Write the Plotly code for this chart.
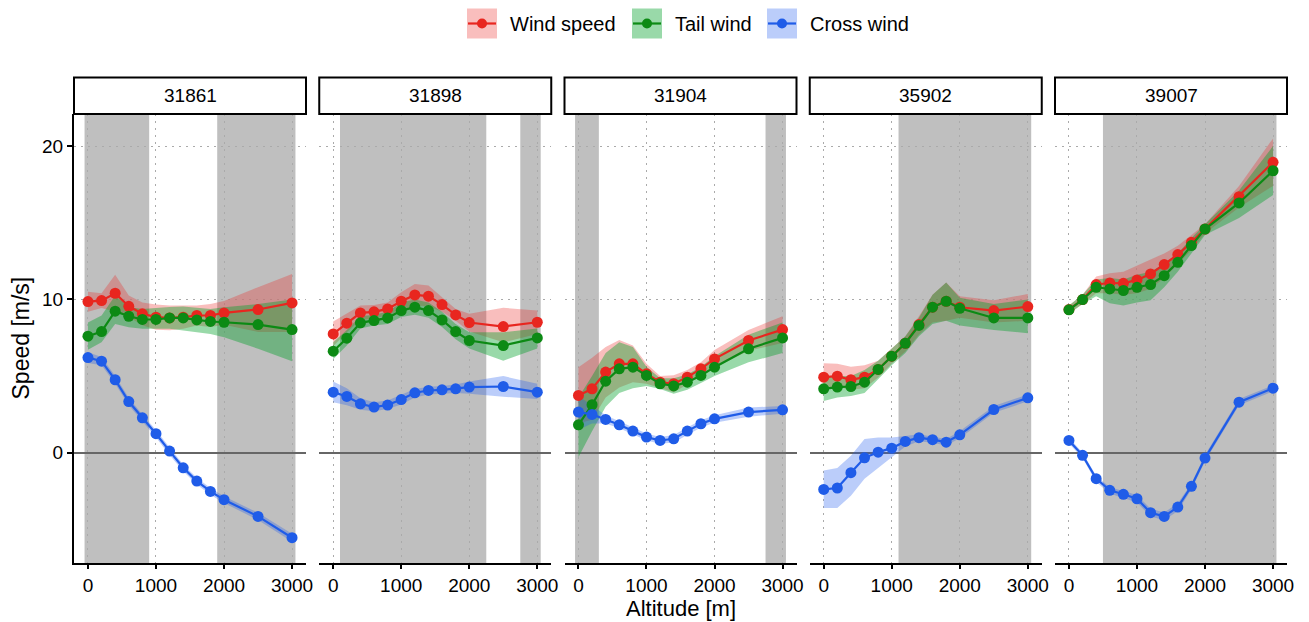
import plotly.graph_objects as go

# ---------------- data ----------------
altitude = [0, 200, 400, 600, 800, 1000, 1200, 1400, 1600, 1800, 2000, 2500, 3000]
stations = ["31861", "31898", "31904", "35902", "39007"]
series_names = ["Wind speed", "Tail wind", "Cross wind"]
x_ticks = [0, 1000, 2000, 3000]
y_ticks = [0, 10, 20]

# 31861
ws_31861 = [9.86, 9.92, 10.40, 9.55, 9.06, 8.84, 8.79, 8.84, 8.95, 8.95, 9.12, 9.34, 9.77]
ws_hi_31861 = [10.5, 10.4, 11.6, 10.25, 9.8, 9.66, 9.6, 9.6, 9.6, 9.7, 9.9, 10.8, 11.66]
ws_lo_31861 = [9.2, 9.44, 9.2, 8.85, 8.32, 8.02, 7.98, 8.08, 8.3, 8.2, 8.34, 7.88, 7.88]
tw_31861 = [7.60, 7.90, 9.23, 8.90, 8.69, 8.69, 8.79, 8.79, 8.66, 8.56, 8.51, 8.36, 8.03]
tw_hi_31861 = [8.5, 8.95, 10.25, 9.5, 9.38, 9.45, 9.5, 9.53, 9.45, 9.38, 9.49, 9.7, 10.0]
tw_lo_31861 = [6.71, 7.2, 8.4, 8.19, 8.08, 8.08, 8.08, 7.97, 7.86, 7.75, 7.53, 6.78, 5.97]
cw_31861 = [6.21, 5.97, 4.76, 3.34, 2.28, 1.24, 0.11, -0.98, -1.85, -2.52, -3.06, -4.15, -5.54]
cw_hi_31861 = [6.55, 6.25, 5.0, 3.58, 2.5, 1.48, 0.35, -0.76, -1.63, -2.3, -2.84, -3.92, -5.28]
cw_lo_31861 = [5.85, 5.7, 4.5, 3.1, 2.05, 1.0, -0.14, -1.2, -2.07, -2.74, -3.28, -4.38, -5.8]

# 31898
ws_31898 = [7.75, 8.45, 9.12, 9.19, 9.38, 9.88, 10.29, 10.21, 9.66, 8.99, 8.49, 8.23, 8.51]
ws_hi_31898 = [8.56, 9.06, 9.6, 9.64, 9.8, 10.47, 11.0, 10.9, 10.14, 9.38, 9.06, 9.45, 9.27]
ws_lo_31898 = [6.95, 7.85, 8.65, 8.75, 8.95, 9.3, 9.6, 9.55, 9.2, 8.6, 7.9, 7.2, 7.75]
tw_31898 = [6.62, 7.47, 8.47, 8.62, 8.79, 9.27, 9.49, 9.27, 8.66, 7.90, 7.32, 6.99, 7.49]
tw_hi_31898 = [7.2, 8.0, 8.9, 9.0, 9.2, 9.8, 10.0, 9.8, 9.2, 8.4, 7.85, 7.85, 8.1]
tw_lo_31898 = [6.1, 7.0, 8.1, 8.3, 8.4, 8.85, 9.0, 8.8, 8.2, 7.4, 6.8, 6.0, 6.8]
cw_31898 = [3.95, 3.67, 3.19, 2.98, 3.11, 3.47, 3.91, 4.06, 4.10, 4.17, 4.28, 4.32, 3.95]
cw_hi_31898 = [4.65, 4.2, 3.55, 3.3, 3.4, 3.75, 4.15, 4.3, 4.35, 4.45, 4.65, 5.0, 4.5]
cw_lo_31898 = [3.3, 3.1, 2.8, 2.7, 2.85, 3.15, 3.6, 3.8, 3.85, 3.9, 3.85, 3.65, 3.5]

# 31904
ws_31904 = [3.74, 4.17, 5.26, 5.80, 5.80, 5.15, 4.60, 4.50, 4.93, 5.47, 6.12, 7.32, 8.03]
ws_hi_31904 = [5.58, 6.2, 6.9, 7.36, 7.0, 5.8, 5.0, 5.05, 5.4, 5.9, 6.7, 8.0, 8.9]
ws_lo_31904 = [1.9, 2.15, 3.6, 4.25, 4.6, 4.5, 4.2, 3.95, 4.45, 5.05, 5.55, 6.65, 7.15]
tw_31904 = [1.82, 3.13, 4.67, 5.47, 5.58, 5.04, 4.50, 4.36, 4.60, 5.04, 5.58, 6.78, 7.49]
tw_hi_31904 = [3.6, 5.0, 6.5, 7.2, 6.9, 5.6, 4.85, 4.85, 5.1, 5.6, 6.3, 7.7, 8.5]
tw_lo_31904 = [-0.3, 1.4, 3.0, 3.9, 4.2, 4.35, 4.15, 3.85, 4.1, 4.55, 5.0, 5.9, 6.5]
cw_31904 = [2.65, 2.50, 2.17, 1.82, 1.41, 1.02, 0.80, 0.91, 1.41, 1.89, 2.21, 2.65, 2.80]
cw_hi_31904 = [3.7, 3.1, 2.45, 2.05, 1.65, 1.25, 1.02, 1.15, 1.65, 2.12, 2.45, 2.95, 3.05]
cw_lo_31904 = [1.5, 1.9, 1.9, 1.6, 1.2, 0.8, 0.58, 0.67, 1.15, 1.65, 1.95, 2.35, 2.55]

# 35902
ws_35902 = [4.93, 4.99, 4.76, 4.93, 5.43, 6.30, 7.14, 8.36, 9.49, 9.88, 9.49, 9.27, 9.53]
ws_hi_35902 = [5.84, 5.8, 5.6, 5.7, 6.0, 6.8, 7.6, 8.9, 10.3, 11.1, 10.2, 9.95, 10.35]
ws_lo_35902 = [4.2, 4.3, 4.1, 4.2, 4.9, 5.8, 6.6, 7.7, 8.5, 8.6, 8.8, 8.5, 8.6]
tw_35902 = [4.17, 4.28, 4.32, 4.60, 5.43, 6.30, 7.14, 8.30, 9.49, 9.88, 9.42, 8.79, 8.79]
tw_hi_35902 = [4.9, 5.0, 5.0, 5.4, 6.0, 6.8, 7.6, 8.8, 10.3, 11.1, 10.1, 9.7, 10.0]
tw_lo_35902 = [3.37, 3.6, 3.7, 3.9, 4.8, 5.7, 6.5, 7.6, 8.4, 8.6, 8.3, 8.0, 7.8]
cw_35902 = [-2.39, -2.30, -1.30, -0.33, 0.04, 0.30, 0.74, 0.98, 0.85, 0.69, 1.17, 2.82, 3.58]
cw_hi_35902 = [-1.15, -1.0, -0.2, 0.9, 1.0, 1.0, 1.1, 1.2, 1.05, 0.9, 1.4, 3.05, 3.8]
cw_lo_35902 = [-3.6, -3.6, -2.8, -1.7, -1.0, -0.3, 0.4, 0.75, 0.65, 0.48, 0.95, 2.6, 3.35]

# 39007
ws_39007 = [9.34, 9.99, 10.97, 11.07, 11.05, 11.27, 11.66, 12.27, 12.92, 13.72, 14.59, 16.70, 18.94]
ws_hi_39007 = [9.6, 10.3, 11.5, 11.7, 11.8, 12.2, 12.6, 13.0, 13.5, 14.2, 14.9, 17.4, 20.5]
ws_lo_39007 = [9.1, 9.7, 10.4, 10.4, 10.3, 10.4, 10.7, 11.4, 12.3, 13.2, 14.3, 16.0, 17.4]
tw_39007 = [9.32, 9.99, 10.79, 10.68, 10.58, 10.79, 10.97, 11.55, 12.42, 13.51, 14.59, 16.29, 18.39]
tw_hi_39007 = [9.6, 10.3, 11.3, 11.4, 11.3, 11.6, 11.8, 12.3, 13.0, 14.0, 14.9, 17.1, 20.0]
tw_lo_39007 = [9.05, 9.7, 10.2, 9.75, 9.6, 9.8, 9.95, 10.8, 11.8, 13.0, 14.2, 15.3, 16.8]
cw_39007 = [0.80, -0.17, -1.69, -2.45, -2.71, -3.00, -3.91, -4.15, -3.54, -2.19, -0.35, 3.30, 4.21]
cw_hi_39007 = [1.0, 0.0, -1.5, -2.25, -2.5, -2.75, -3.65, -3.9, -3.3, -2.0, -0.15, 3.5, 4.4]
cw_lo_39007 = [0.6, -0.35, -1.9, -2.65, -2.95, -3.25, -4.15, -4.4, -3.8, -2.4, -0.55, 3.1, 4.0]

# shaded altitude bands (start, end) per station
bands_31861 = [(-50, 900), (1900, 3050)]
bands_31898 = [(100, 2250), (2750, 3050)]
bands_31904 = [(-50, 300), (2750, 3050)]
bands_35902 = [(1100, 3050)]
bands_39007 = [(500, 3050)]

station_data = {
    "31861": [(ws_31861, ws_lo_31861, ws_hi_31861), (tw_31861, tw_lo_31861, tw_hi_31861), (cw_31861, cw_lo_31861, cw_hi_31861)],
    "31898": [(ws_31898, ws_lo_31898, ws_hi_31898), (tw_31898, tw_lo_31898, tw_hi_31898), (cw_31898, cw_lo_31898, cw_hi_31898)],
    "31904": [(ws_31904, ws_lo_31904, ws_hi_31904), (tw_31904, tw_lo_31904, tw_hi_31904), (cw_31904, cw_lo_31904, cw_hi_31904)],
    "35902": [(ws_35902, ws_lo_35902, ws_hi_35902), (tw_35902, tw_lo_35902, tw_hi_35902), (cw_35902, cw_lo_35902, cw_hi_35902)],
    "39007": [(ws_39007, ws_lo_39007, ws_hi_39007), (tw_39007, tw_lo_39007, tw_hi_39007), (cw_39007, cw_lo_39007, cw_hi_39007)],
}
station_bands = {"31861": bands_31861, "31898": bands_31898, "31904": bands_31904,
                 "35902": bands_35902, "39007": bands_39007}

# ---------------- style ----------------
line_colors = ["#E8261F", "#0C8A14", "#1F5CE8"]
fill_colors = ["rgba(235,40,35,0.30)", "rgba(0,160,40,0.40)", "rgba(30,90,240,0.30)"]
FONT = "Liberation Sans, Arial, Helvetica, sans-serif"

W, H = 1309, 622
ML, MR, MT, MB = 74, 22, 114, 59
PW = W - ML - MR
PH = H - MT - MB
panel_w = 232
panel_step = 245.25


def px_x(px):
    return (px - ML) / PW


def px_y(py):
    return (H - MB - py) / PH


fig = go.Figure()
shapes = []
annotations = []

for i, st in enumerate(stations):
    xa = "x" if i == 0 else f"x{i + 1}"
    ya = "y" if i == 0 else f"y{i + 1}"
    data = station_data[st]
    # ribbons
    for k, (mean, lo, hi) in enumerate(data):
        fig.add_trace(go.Scatter(
            x=altitude + altitude[::-1], y=hi + lo[::-1],
            fill="toself", fillcolor=fill_colors[k], line=dict(width=0),
            mode="lines", hoverinfo="skip", showlegend=False, xaxis=xa, yaxis=ya))
    # lines + points
    for k, (mean, lo, hi) in enumerate(data):
        fig.add_trace(go.Scatter(
            x=altitude, y=mean, mode="lines+markers", name=series_names[k],
            line=dict(color=line_colors[k], width=2.2),
            marker=dict(color=line_colors[k], size=11),
            showlegend=False, xaxis=xa, yaxis=ya))
    # shaded bands
    for (b0, b1) in station_bands[st]:
        shapes.append(dict(type="rect", xref=xa, yref=f"{ya} domain", x0=b0, x1=b1, y0=0, y1=1,
                           fillcolor="#bfbfbf", line=dict(width=0), layer="below"))
    # strip
    x0 = (i * panel_step) / PW
    x1 = (i * panel_step + panel_w) / PW
    shapes.append(dict(type="rect", xref="paper", yref="paper", x0=x0, x1=x1,
                       y0=px_y(114), y1=px_y(77.5), fillcolor="white",
                       line=dict(color="black", width=2)))
    annotations.append(dict(x=(x0 + x1) / 2, y=px_y(95.7), xref="paper", yref="paper",
                            text=st, showarrow=False, font=dict(family=FONT, size=19, color="black"),
                            xanchor="center", yanchor="middle"))

layout_axes = {}
for i in range(5):
    xk = "xaxis" if i == 0 else f"xaxis{i + 1}"
    yk = "yaxis" if i == 0 else f"yaxis{i + 1}"
    x0 = (i * panel_step) / PW
    x1 = (i * panel_step + panel_w) / PW
    layout_axes[xk] = dict(
        domain=[x0, x1], range=[-205, 3205], tickvals=x_ticks, ticktext=[str(v) for v in x_ticks],
        showline=True, linecolor="black", linewidth=2, ticks="outside", ticklen=4,
        tickwidth=1.5, tickcolor="black", showgrid=True, gridcolor="#aaaaaa", gridwidth=1,
        griddash="2px,5px", zeroline=False, anchor="y" if i == 0 else f"y{i + 1}",
        tickfont=dict(family=FONT, size=19, color="black"), fixedrange=True)
    ydict = dict(
        domain=[0, 1], range=[-7.19, 22.09], tickvals=y_ticks, showgrid=True,
        gridcolor="#aaaaaa", gridwidth=1, griddash="2px,5px",
        zeroline=True, zerolinecolor="#666666", zerolinewidth=1.6,
        anchor="x" if i == 0 else f"x{i + 1}", fixedrange=True)
    if i == 0:
        ydict.update(showline=True, linecolor="black", linewidth=2, ticks="outside", ticklen=5,
                     tickwidth=1.5, tickcolor="black", showticklabels=True,
                     tickfont=dict(family=FONT, size=19, color="black"))
    else:
        ydict.update(showline=False, ticks="", showticklabels=False, matches="y")
    layout_axes[yk] = ydict

# axis titles
annotations.append(dict(x=0.5, y=px_y(608), xref="paper", yref="paper", text="Altitude [m]",
                        showarrow=False, font=dict(family=FONT, size=22, color="black"),
                        xanchor="center", yanchor="middle"))
annotations.append(dict(x=px_x(20), y=0.5, xref="paper", yref="paper", text="Speed [m/s]",
                        showarrow=False, textangle=-90, font=dict(family=FONT, size=23, color="black"),
                        xanchor="center", yanchor="middle"))

# manual legend
legend_key_left = [467, 632, 767]
legend_text_left = [508, 673, 808]
for k in range(3):
    kx0, kx1 = legend_key_left[k], legend_key_left[k] + 30
    shapes.append(dict(type="rect", xref="paper", yref="paper", x0=px_x(kx0), x1=px_x(kx1),
                       y0=px_y(38.5), y1=px_y(8.5), fillcolor=fill_colors[k], line=dict(width=0)))
    shapes.append(dict(type="line", xref="paper", yref="paper", x0=px_x(kx0 + 1), x1=px_x(kx1 - 1),
                       y0=px_y(23.5), y1=px_y(23.5), line=dict(color=line_colors[k], width=2.2)))
    shapes.append(dict(type="circle", xref="paper", yref="paper", xsizemode="pixel", ysizemode="pixel",
                       xanchor=px_x((kx0 + kx1) / 2), yanchor=px_y(23.5), x0=-5, x1=5, y0=-5, y1=5,
                       fillcolor=line_colors[k], line=dict(width=0)))
    annotations.append(dict(x=px_x(legend_text_left[k]), y=px_y(23.5), xref="paper", yref="paper",
                            text=series_names[k], showarrow=False,
                            font=dict(family=FONT, size=20, color="black"),
                            xanchor="left", yanchor="middle"))

fig.update_layout(
    width=W, height=H,
    margin=dict(l=ML, r=MR, t=MT, b=MB, pad=0),
    paper_bgcolor="white", plot_bgcolor="white",
    showlegend=False,
    shapes=shapes, annotations=annotations,
    font=dict(family=FONT, color="black"),
    **layout_axes,
)

fig.write_html(
    "out.html",
    config={"displayModeBar": False},
    post_script="document.body.style.margin='0px';document.body.style.padding='0px';"
                "document.documentElement.style.overflow='hidden';",
)
